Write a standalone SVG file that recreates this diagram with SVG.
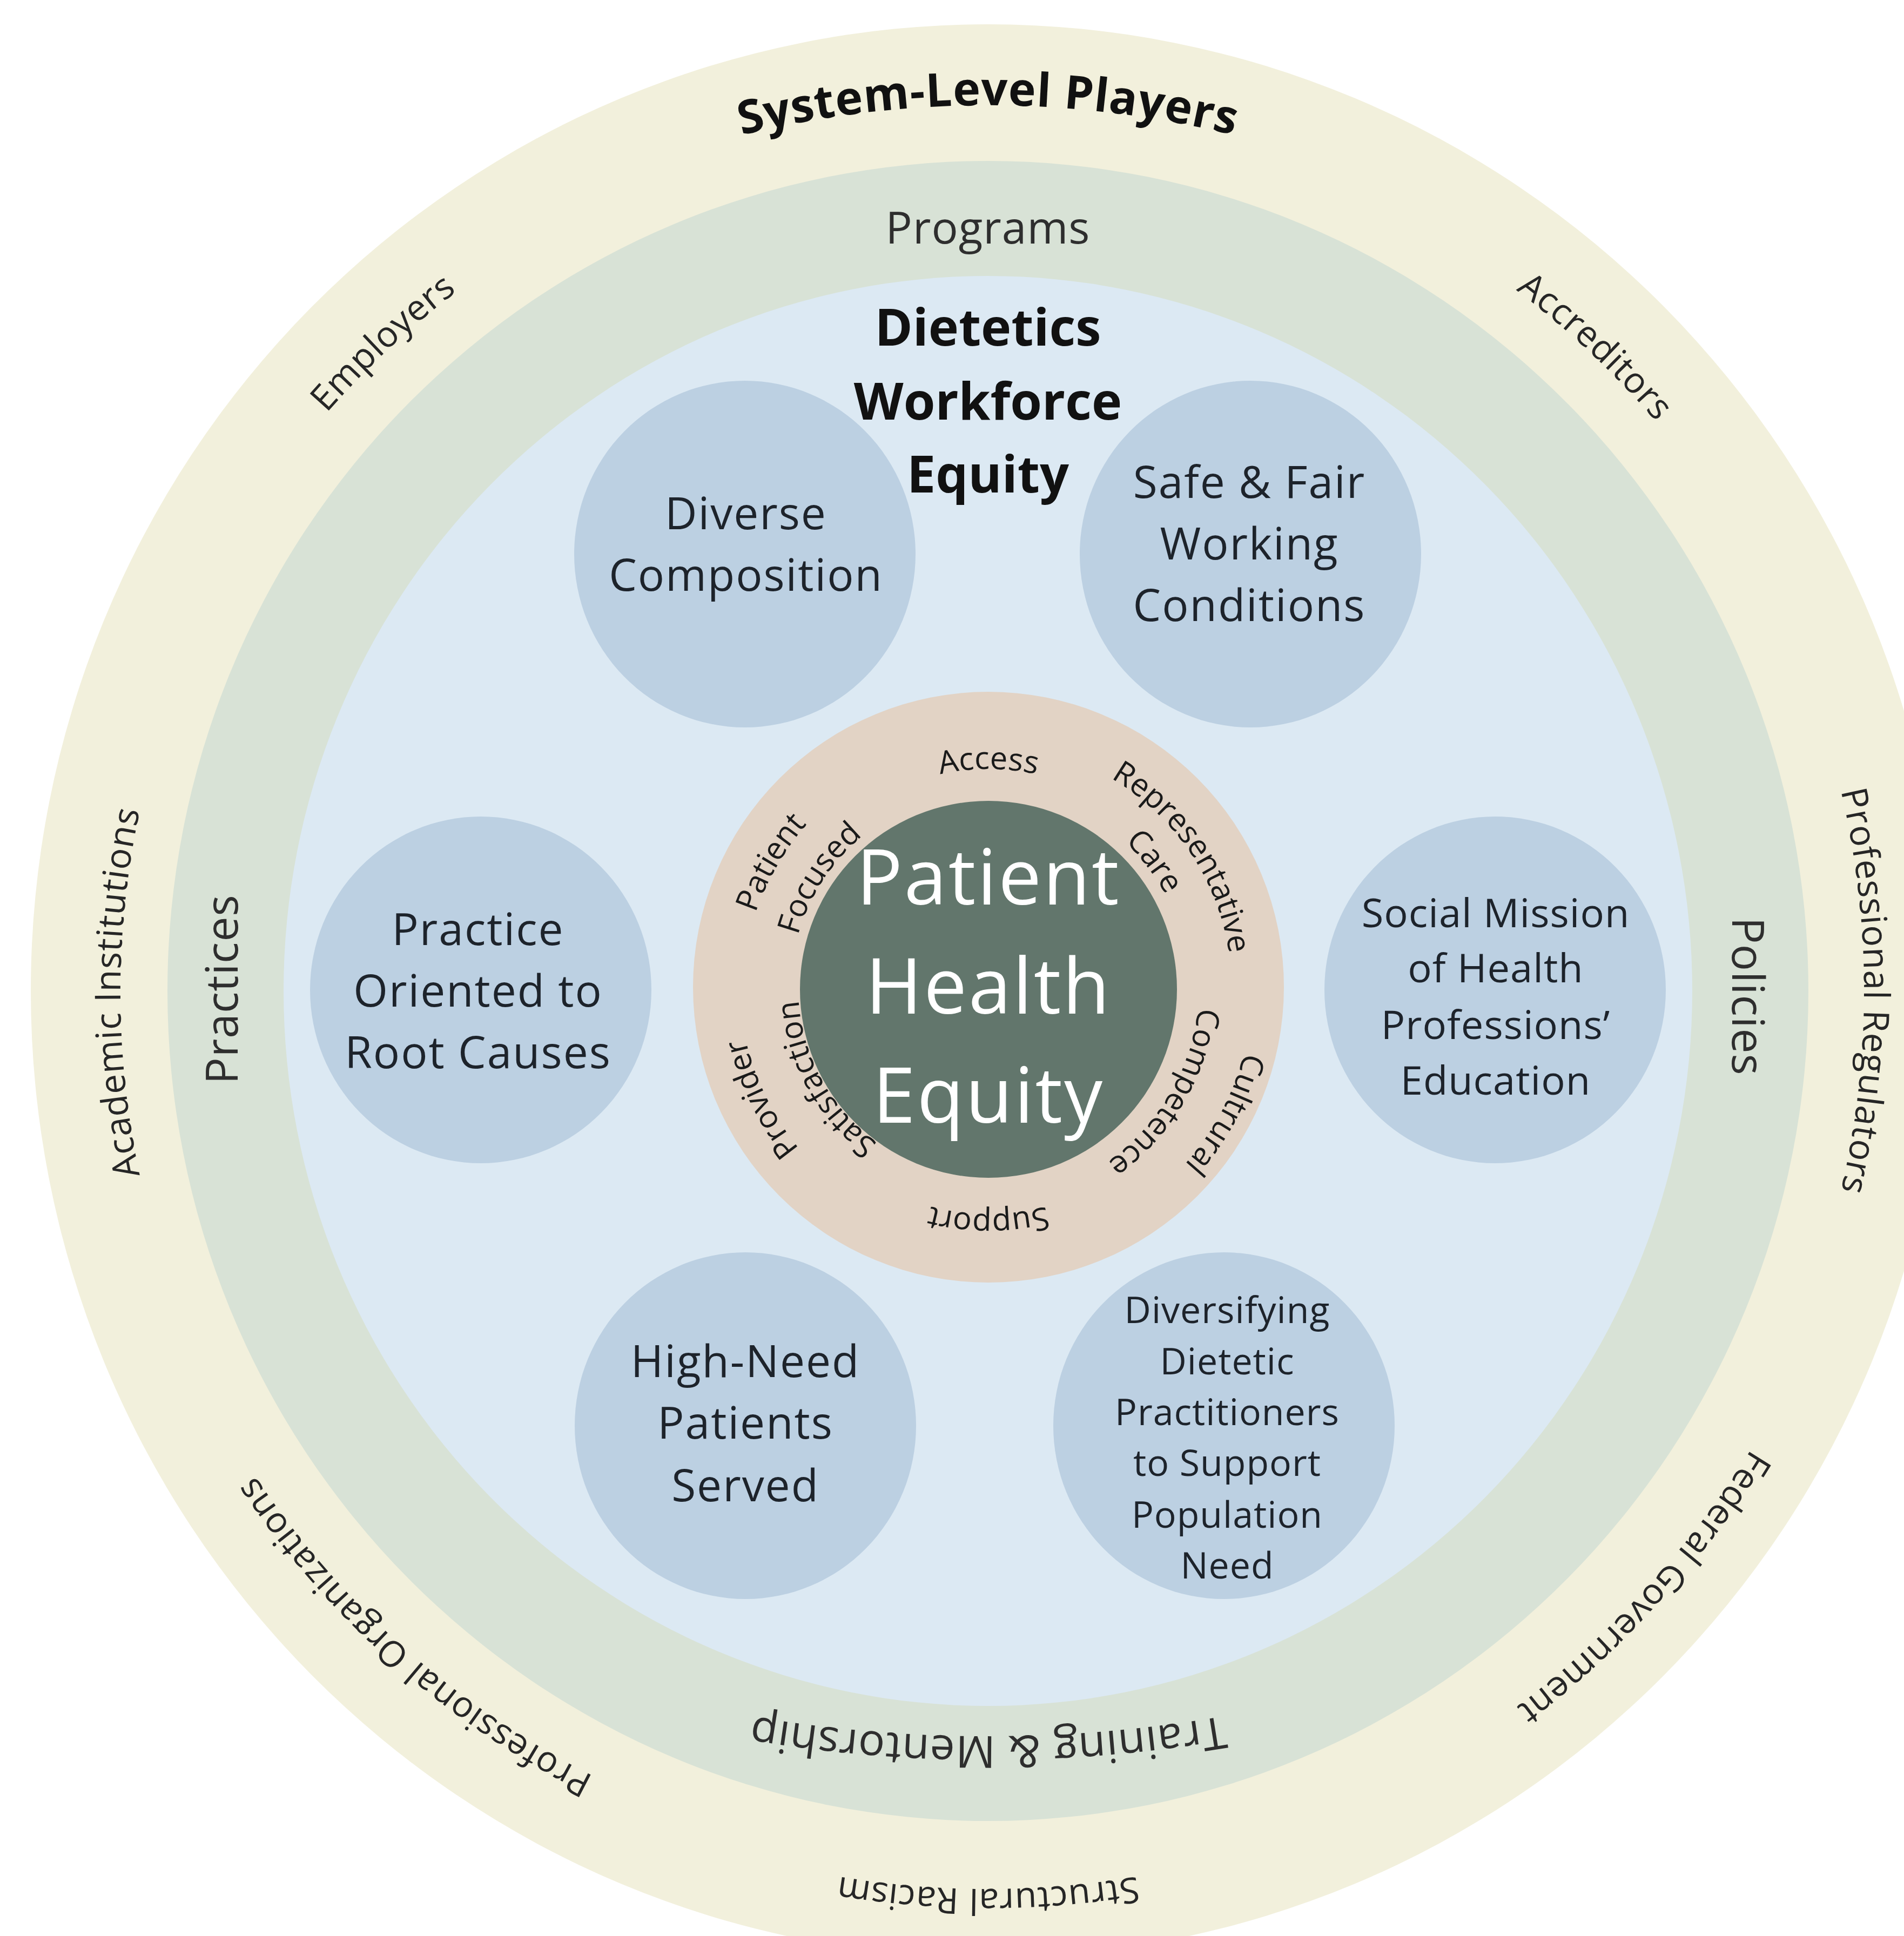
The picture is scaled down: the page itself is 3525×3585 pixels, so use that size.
<svg xmlns="http://www.w3.org/2000/svg" width="3525" height="3585" viewBox="0 0 3525 3585">
<style>
  text { font-family: "Open Sans", "Noto Sans", "DejaVu Sans", sans-serif; }
  .node { fill: #BCD0E2; }
  .nt { font-size: 82px; fill: #1d232b; text-anchor: middle; letter-spacing: 2px; }
  .nts { font-size: 74px; fill: #1d232b; text-anchor: middle; letter-spacing: 1px; }
  .ntx { font-size: 68px; fill: #1d232b; text-anchor: middle; letter-spacing: 1px; }
  .outer { font-size: 66px; fill: #262626; letter-spacing: 1px; }
  .ring { font-size: 82px; fill: #2e2e2e; letter-spacing: 1px; }
  .peach { font-size: 58px; fill: #1a1a1a; }
  .core { font-size: 142px; fill: #ffffff; text-anchor: middle; letter-spacing: 3px; }
  .title { font-size: 95px; font-weight: 700; fill: #111111; text-anchor: middle; }
</style>
<defs>
  <path id="pSystem" d="M1829,3995 A1900,1900 0 1 1 1829,195 A1900,1900 0 1 1 1829,3995"/>
  <path id="pEmployers" d="M2938,3024.2 A1626,1626 0 1 1 720,645.8 A1626,1626 0 1 1 2938,3024.2"/>
  <path id="pAccreditors" d="M714.6,3017.7 A1625,1625 0 1 1 2943.4,652.3 A1625,1625 0 1 1 714.6,3017.7"/>
  <path id="pRegulators" d="M207,1835 A1622,1622 0 1 1 3451,1835 A1622,1622 0 1 1 207,1835"/>
  <path id="pAcademic" d="M3435,1838 A1606,1606 0 1 1 223,1838 A1606,1606 0 1 1 3435,1838"/>
  <path id="pProfOrg" d="M2909.2,618.3 A1627,1627 0 1 1 748.8,3051.7 A1627,1627 0 1 1 2909.2,618.3"/>
  <path id="pFederal" d="M612.4,727.9 A1645,1645 0 1 1 3045.6,2942.1 A1645,1645 0 1 1 612.4,727.9"/>
  <path id="pStructural" d="M1829,172 A1663,1663 0 1 1 1829,3498 A1663,1663 0 1 1 1829,172"/>
  <path id="pTraining" d="M1829,-1985 A2600,2600 0 1 1 1829,3215 A2600,2600 0 1 1 1829,-1985"/>
  <path id="pAccess" d="M1830,2236 A406,406 0 1 1 1830,1424 A406,406 0 1 1 1830,2236"/>
  <path id="pRep" d="M1456.9,2081.6 A450,450 0 1 1 2203.1,1578.4 A450,450 0 1 1 1456.9,2081.6"/>
  <path id="pCare" d="M1536.1,2054.7 A370,370 0 1 1 2123.9,1605.3 A370,370 0 1 1 1536.1,2054.7"/>
  <path id="pPatient" d="M2221.4,2056 A452,452 0 1 1 1438.6,1604 A452,452 0 1 1 2221.4,2056"/>
  <path id="pFocused" d="M2137.0,2029.3 A366,366 0 1 1 1523.0,1630.7 A366,366 0 1 1 2137.0,2029.3"/>
  <path id="pCultural" d="M1399.1,1600.9 A488,488 0 1 1 2260.9,2059.1 A488,488 0 1 1 1399.1,1600.9"/>
  <path id="pCompetence" d="M1495.7,1633.1 A388,388 0 1 1 2164.3,2026.9 A388,388 0 1 1 1495.7,1633.1"/>
  <path id="pProvider" d="M2241.6,1629.2 A458,458 0 1 1 1418.4,2030.8 A458,458 0 1 1 2241.6,1629.2"/>
  <path id="pSatisfaction" d="M2137.9,1659.4 A352,352 0 1 1 1522.1,2000.6 A352,352 0 1 1 2137.9,1659.4"/>
  <path id="pSupport" d="M1830,1412 A418,418 0 1 1 1830,2248 A418,418 0 1 1 1830,1412"/>
</defs>
<rect width="3525" height="3585" fill="#ffffff"/>

<g id="ring-system-level">
  <ellipse cx="1829" cy="1835" rx="1772" ry="1790" fill="#F2F0DC"/>
  <text style="font-size:86px;font-weight:700;fill:#111;letter-spacing:1px"><textPath href="#pSystem" startOffset="50%" text-anchor="middle">System-Level Players</textPath></text>
  <text class="outer"><textPath href="#pEmployers" startOffset="50%" text-anchor="middle">Employers</textPath></text>
  <text class="outer"><textPath href="#pAccreditors" startOffset="50%" text-anchor="middle">Accreditors</textPath></text>
  <text class="outer"><textPath href="#pRegulators" startOffset="50%" text-anchor="middle">Professional Regulators</textPath></text>
  <text class="outer"><textPath href="#pAcademic" startOffset="50%" text-anchor="middle">Academic Institutions</textPath></text>
  <text class="outer"><textPath href="#pProfOrg" startOffset="50%" text-anchor="middle">Professional Organizations</textPath></text>
  <text class="outer"><textPath href="#pFederal" startOffset="50%" text-anchor="middle">Federal Government</textPath></text>
  <text class="outer"><textPath href="#pStructural" startOffset="50%" text-anchor="middle">Structural Racism</textPath></text>
</g>

<g id="ring-programs">
  <ellipse cx="1829" cy="1835" rx="1519" ry="1537" fill="#D8E2D6"/>
  <text class="ring" x="1829" y="451" text-anchor="middle">Programs</text>
  <text class="ring" transform="translate(440,1832) rotate(-90)" text-anchor="middle">Practices</text>
  <text class="ring" transform="translate(3207,1845) rotate(90)" text-anchor="middle">Policies</text>
  <text class="ring"><textPath href="#pTraining" startOffset="50%" text-anchor="middle">Training &amp; Mentorship</textPath></text>
</g>

<g id="workforce-equity">
  <ellipse cx="1829" cy="1835" rx="1304" ry="1324" fill="#DCE9F3"/>
  <text class="title" x="1829" y="640">Dietetics</text>
  <text class="title" x="1829" y="777">Workforce</text>
  <text class="title" x="1829" y="912">Equity</text>
</g>

<g id="node-diverse-composition">
  <ellipse class="node" cx="1379" cy="1026" rx="316" ry="321"/>
  <text class="nt" x="1381" y="980">Diverse</text>
  <text class="nt" x="1381" y="1094">Composition</text>
</g>
<g id="node-safe-fair">
  <ellipse class="node" cx="2315" cy="1026" rx="316" ry="321"/>
  <text class="nt" x="2313" y="922">Safe &amp; Fair</text>
  <text class="nt" x="2313" y="1036">Working</text>
  <text class="nt" x="2313" y="1150">Conditions</text>
</g>
<g id="node-practice-root-causes">
  <ellipse class="node" cx="890" cy="1833" rx="316" ry="321"/>
  <text class="nt" x="885" y="1750">Practice</text>
  <text class="nt" x="885" y="1864">Oriented to</text>
  <text class="nt" x="885" y="1978">Root Causes</text>
</g>
<g id="node-social-mission">
  <ellipse class="node" cx="2768" cy="1833" rx="316" ry="321"/>
  <text class="nts" x="2769" y="1717">Social Mission</text>
  <text class="nts" x="2769" y="1819">of Health</text>
  <text class="nts" x="2769" y="1924">Professions’</text>
  <text class="nts" x="2769" y="2027">Education</text>
</g>
<g id="node-high-need">
  <ellipse class="node" cx="1380" cy="2640" rx="316" ry="321"/>
  <text class="nt" x="1380" y="2550">High-Need</text>
  <text class="nt" x="1380" y="2664">Patients</text>
  <text class="nt" x="1380" y="2780">Served</text>
</g>
<g id="node-diversifying">
  <ellipse class="node" cx="2266" cy="2640" rx="316" ry="321"/>
  <text class="ntx" x="2272" y="2450">Diversifying</text>
  <text class="ntx" x="2272" y="2545">Dietetic</text>
  <text class="ntx" x="2272" y="2639">Practitioners</text>
  <text class="ntx" x="2272" y="2733">to Support</text>
  <text class="ntx" x="2272" y="2829">Population</text>
  <text class="ntx" x="2272" y="2923">Need</text>
</g>

<g id="patient-health-equity">
  <circle cx="1830" cy="1828" r="547" fill="#E2D3C5"/>
  <text class="peach"><textPath href="#pAccess" startOffset="50%" text-anchor="middle">Access</textPath></text>
  <text class="peach"><textPath href="#pRep" startOffset="50%" text-anchor="middle">Representative</textPath></text>
  <text class="peach"><textPath href="#pCare" startOffset="50%" text-anchor="middle">Care</textPath></text>
  <text class="peach"><textPath href="#pPatient" startOffset="50%" text-anchor="middle">Patient</textPath></text>
  <text class="peach"><textPath href="#pFocused" startOffset="50%" text-anchor="middle">Focused</textPath></text>
  <text class="peach"><textPath href="#pCultural" startOffset="50%" text-anchor="middle">Cultrural</textPath></text>
  <text class="peach"><textPath href="#pCompetence" startOffset="50%" text-anchor="middle">Competence</textPath></text>
  <text class="peach"><textPath href="#pProvider" startOffset="50%" text-anchor="middle">Provider</textPath></text>
  <text class="peach"><textPath href="#pSatisfaction" startOffset="50%" text-anchor="middle">Satisfaction</textPath></text>
  <text class="peach"><textPath href="#pSupport" startOffset="50%" text-anchor="middle">Support</textPath></text>
  <circle cx="1830" cy="1832" r="349" fill="#62766C"/>
  <text class="core" x="1830" y="1675">Patient</text>
  <text class="core" x="1830" y="1877">Health</text>
  <text class="core" x="1830" y="2079">Equity</text>
</g>

<g id="connectors"></g>
</svg>
